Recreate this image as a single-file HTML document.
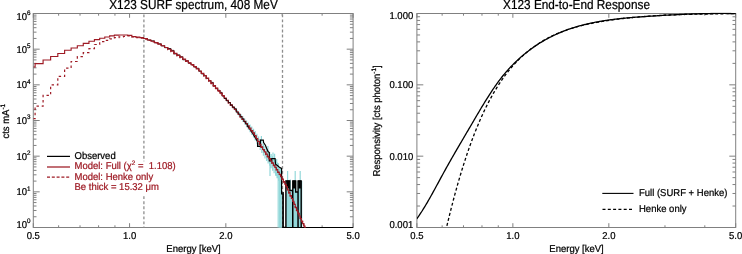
<!DOCTYPE html>
<html><head><meta charset="utf-8"><style>html,body{margin:0;padding:0;background:#fff;width:742px;height:254px;overflow:hidden}svg{display:block;will-change:transform}text{stroke-width:0.22px;text-rendering:geometricPrecision}</style></head>
<body><svg width="742" height="254" viewBox="0 0 742 254" font-family="Liberation Sans, sans-serif">
<rect width="742" height="254" fill="#fff"/>
<defs><clipPath id="cl"><rect x="33.3" y="12.5" width="319.8" height="215.5"/></clipPath><clipPath id="cr"><rect x="416.9" y="12.5" width="318.80000000000007" height="215.5"/></clipPath></defs>
<g fill="none" stroke="#808080" stroke-width="1">
<rect x="33.3" y="13.5" width="319.8" height="214.0"/>
<path d="M33.30 227.5v-4.3M33.30 13.5v4.3M129.57 227.5v-4.3M129.57 13.5v4.3M225.84 227.5v-4.3M225.84 13.5v4.3M353.10 227.5v-4.3M353.10 13.5v4.3M58.62 227.5v-2.2M58.62 13.5v2.2M80.03 227.5v-2.2M80.03 13.5v2.2M98.58 227.5v-2.2M98.58 13.5v2.2M114.94 227.5v-2.2M114.94 13.5v2.2M282.15 227.5v-2.2M282.15 13.5v2.2M322.11 227.5v-2.2M322.11 13.5v2.2M33.3 227.50h6.4M353.1 227.50h-6.4M33.3 216.76h3.2M353.1 216.76h-3.2M33.3 210.48h3.2M353.1 210.48h-3.2M33.3 206.03h3.2M353.1 206.03h-3.2M33.3 202.57h3.2M353.1 202.57h-3.2M33.3 199.75h3.2M353.1 199.75h-3.2M33.3 197.36h3.2M353.1 197.36h-3.2M33.3 195.29h3.2M353.1 195.29h-3.2M33.3 193.47h3.2M353.1 193.47h-3.2M33.3 191.83h6.4M353.1 191.83h-6.4M33.3 181.10h3.2M353.1 181.10h-3.2M33.3 174.82h3.2M353.1 174.82h-3.2M33.3 170.36h3.2M353.1 170.36h-3.2M33.3 166.90h3.2M353.1 166.90h-3.2M33.3 164.08h3.2M353.1 164.08h-3.2M33.3 161.69h3.2M353.1 161.69h-3.2M33.3 159.62h3.2M353.1 159.62h-3.2M33.3 157.80h3.2M353.1 157.80h-3.2M33.3 156.17h6.4M353.1 156.17h-6.4M33.3 145.43h3.2M353.1 145.43h-3.2M33.3 139.15h3.2M353.1 139.15h-3.2M33.3 134.69h3.2M353.1 134.69h-3.2M33.3 131.24h3.2M353.1 131.24h-3.2M33.3 128.41h3.2M353.1 128.41h-3.2M33.3 126.02h3.2M353.1 126.02h-3.2M33.3 123.96h3.2M353.1 123.96h-3.2M33.3 122.13h3.2M353.1 122.13h-3.2M33.3 120.50h6.4M353.1 120.50h-6.4M33.3 109.76h3.2M353.1 109.76h-3.2M33.3 103.48h3.2M353.1 103.48h-3.2M33.3 99.03h3.2M353.1 99.03h-3.2M33.3 95.57h3.2M353.1 95.57h-3.2M33.3 92.75h3.2M353.1 92.75h-3.2M33.3 90.36h3.2M353.1 90.36h-3.2M33.3 88.29h3.2M353.1 88.29h-3.2M33.3 86.47h3.2M353.1 86.47h-3.2M33.3 84.83h6.4M353.1 84.83h-6.4M33.3 74.10h3.2M353.1 74.10h-3.2M33.3 67.82h3.2M353.1 67.82h-3.2M33.3 63.36h3.2M353.1 63.36h-3.2M33.3 59.90h3.2M353.1 59.90h-3.2M33.3 57.08h3.2M353.1 57.08h-3.2M33.3 54.69h3.2M353.1 54.69h-3.2M33.3 52.62h3.2M353.1 52.62h-3.2M33.3 50.80h3.2M353.1 50.80h-3.2M33.3 49.17h6.4M353.1 49.17h-6.4M33.3 38.43h3.2M353.1 38.43h-3.2M33.3 32.15h3.2M353.1 32.15h-3.2M33.3 27.69h3.2M353.1 27.69h-3.2M33.3 24.24h3.2M353.1 24.24h-3.2M33.3 21.41h3.2M353.1 21.41h-3.2M33.3 19.02h3.2M353.1 19.02h-3.2M33.3 16.96h3.2M353.1 16.96h-3.2M33.3 15.13h3.2M353.1 15.13h-3.2M33.3 13.50h6.4M353.1 13.50h-6.4"/>
<rect x="416.9" y="13.5" width="318.80000000000007" height="214.0"/>
<path d="M416.90 227.5v-4.3M416.90 13.5v4.3M512.87 227.5v-4.3M512.87 13.5v4.3M608.84 227.5v-4.3M608.84 13.5v4.3M735.70 227.5v-4.3M735.70 13.5v4.3M442.14 227.5v-2.2M442.14 13.5v2.2M463.49 227.5v-2.2M463.49 13.5v2.2M481.97 227.5v-2.2M481.97 13.5v2.2M498.28 227.5v-2.2M498.28 13.5v2.2M664.97 227.5v-2.2M664.97 13.5v2.2M704.81 227.5v-2.2M704.81 13.5v2.2M416.9 227.50h6.4M735.7 227.50h-6.4M416.9 206.03h3.2M735.7 206.03h-3.2M416.9 193.47h3.2M735.7 193.47h-3.2M416.9 184.55h3.2M735.7 184.55h-3.2M416.9 177.64h3.2M735.7 177.64h-3.2M416.9 171.99h3.2M735.7 171.99h-3.2M416.9 167.22h3.2M735.7 167.22h-3.2M416.9 163.08h3.2M735.7 163.08h-3.2M416.9 159.43h3.2M735.7 159.43h-3.2M416.9 156.17h6.4M735.7 156.17h-6.4M416.9 134.69h3.2M735.7 134.69h-3.2M416.9 122.13h3.2M735.7 122.13h-3.2M416.9 113.22h3.2M735.7 113.22h-3.2M416.9 106.31h3.2M735.7 106.31h-3.2M416.9 100.66h3.2M735.7 100.66h-3.2M416.9 95.88h3.2M735.7 95.88h-3.2M416.9 91.75h3.2M735.7 91.75h-3.2M416.9 88.10h3.2M735.7 88.10h-3.2M416.9 84.83h6.4M735.7 84.83h-6.4M416.9 63.36h3.2M735.7 63.36h-3.2M416.9 50.80h3.2M735.7 50.80h-3.2M416.9 41.89h3.2M735.7 41.89h-3.2M416.9 34.97h3.2M735.7 34.97h-3.2M416.9 29.33h3.2M735.7 29.33h-3.2M416.9 24.55h3.2M735.7 24.55h-3.2M416.9 20.41h3.2M735.7 20.41h-3.2M416.9 16.76h3.2M735.7 16.76h-3.2M416.9 13.50h6.4M735.7 13.50h-6.4"/>
</g>
<path d="M143.9 13.5V227.5M282.5 13.5V227.5" stroke="#8e8e8e" stroke-width="1.3" stroke-dasharray="2.9 2.15" stroke-dashoffset="-0.9" fill="none"/><rect x="141" y="161.3" width="6" height="33" fill="#fff"/>
<g clip-path="url(#cl)" fill="none">
<g fill="#93d8da" stroke="none"><rect x="279.3" y="170" width="2.6" height="57.5"/><rect x="285.9" y="181" width="16.4" height="46.5"/></g>
<g fill="#fff" stroke="none"><rect x="290.3" y="176" width="2.0" height="14.5"/><rect x="296.2" y="176" width="1.4" height="16"/></g>
<path d="M231.39 103.96V105.94M233.37 105.88V108.48M235.33 107.88V111.09M237.27 109.97V113.78M239.17 112.11V116.52M241.05 114.26V119.25M242.91 116.37V121.94M244.74 118.42V124.55M246.54 120.43V127.13M248.33 122.44V129.70M250.09 124.49V132.29M251.82 126.55V134.89M253.54 128.67V137.54M255.24 131.02V140.42M256.91 133.77V143.69M258.57 136.50V146.94M260.21 139.03V149.98M261.82 141.47V152.92M263.42 143.80V155.74M265.00 145.98V158.41M266.56 148.02V160.95M268.11 150.01V163.41M269.64 151.99V165.87M271.15 153.97V168.32M272.64 155.92V170.73M274.12 157.88V173.16M275.59 159.90V175.63M277.04 161.99V178.17M278.47 164.10V180.73M270 156V176M276.7 159V176M278.2 163V227.5M279.6 168V227.5M280.6 168V227.5M261.4 135.9V142M257.5 142V147M267.9 146V160M273 152.6V162M274.6 153.8V165M287.6 171V181M295.2 171V181M300.2 171V181M290.3 179.5V191" stroke="#93d8da" stroke-width="1.2"/>
<path d="M143.63 38.53H147.34V40.01H150.96V40.87H154.49V42.72H157.93V43.88H161.28V45.89H164.56V47.68H167.76V48.51H170.89V50.40H173.95V53.85H176.94V54.96H179.88V56.76H182.75V59.78H185.56V60.79H188.32V63.26H191.02V64.61H193.67V66.91H196.27V68.25H198.83V71.23H201.33V73.89H203.80V75.72H206.22V78.52H208.60V80.86H210.94V82.41H213.24V86.05H215.50V88.31H217.72V90.35H219.92V92.39H222.07V95.99H224.20V98.53H226.29" stroke="#000" stroke-width="0.9"/>
<path d="M247.21 125.88 L249.21 128.18 L253.00 134.00 L257.60 141.60 L257.60 146.40 L260.40 146.40 L260.40 140.20 L263.30 140.20 L263.60 142.50 L265.40 145.30 L266.70 148.50 L268.00 151.50 L269.30 152.50 L269.30 161.00 L271.70 161.00 L271.70 158.60 L275.10 158.60 L275.50 164.20 L277.40 165.60 L279.40 167.20 L281.60 168.40 L281.60 194.00 L283.00 194.00 L283.00 227.50 L353.50 227.50" stroke="#000" stroke-width="1.2"/>
<path d="M283.1 192V227.5H285.9V181H289.8V190.5H292.7V227.5M292.8 227.5V181H295.7V192H298V227.5M298.1 227.5V181H301.2V227.5" stroke="#000" stroke-width="1.4"/>
<g fill="#000"><rect x="286.4" y="180.5" width="3.2" height="8"/><rect x="292.9" y="180.5" width="2.6" height="8"/><rect x="298.3" y="180.5" width="2.6" height="8"/></g>
<path d="M33.30 118.60H35.09V106.20H43.09V95.40H50.64V84.90H57.81V76.40H64.62V68.20H71.12V61.50H77.33V56.60H83.27V52.70H88.96V48.70H94.44V44.50H99.70V41.70H104.77V40.30H109.67V38.80H114.39V37.60H118.97V36.80H123.39V36.30H127.68V35.90H131.84V37.02H135.88V37.55H139.81V38.07H143.63V39.03H147.34V40.51H150.96V41.79H154.49V43.14H157.93V44.59H161.28V46.22H164.56V47.97H167.76V49.71H170.89V51.68H173.95V53.81H176.94V55.84H179.88V57.69H182.75V59.49H185.56V61.34H188.32V63.22H191.02V65.15H193.67V67.18H196.27V69.31H198.83V71.52H201.33V73.80H203.80V76.18H206.22V78.63H208.60V81.09H210.94V83.61H213.24V86.14H215.50V88.66H217.72V91.17H219.92V93.64H222.07V96.08H224.20V98.48H226.29V100.85H228.35V103.16H230.38V105.40H232.38V107.61H234.36V109.90H236.30V112.27H238.22V114.70H240.11V117.12H241.98V119.51H243.82V121.82H245.64V124.10H247.44V126.38H249.21V128.68H250.96V131.01H252.69V133.37H254.39V135.97H256.08V138.97H257.74V141.95H259.39V144.72H261.02V147.40H262.62V149.96H264.21V152.37H265.79V154.65H267.34V156.86H268.88V159.06H270.40V161.27H271.90V163.44H273.39V165.62H274.86V167.85H276.31V170.15H277.76V172.48H279.18V174.83H280.59V177.22H281.99V179.66H283.37V182.17H284.74V184.75H286.10V187.43H287.44V190.23H288.77V193.11H290.09V196.03H291.40V198.98H292.69V201.93H293.97V204.84H295.24V207.75H296.50V210.73H297.75V213.67H298.98V216.49H300.21V219.12H301.42V221.61H302.63V224.06H303.82V226.56H305.00V229.21H306.18V232.02H307.34V233.5" stroke="#9e1a24" stroke-width="1.2" stroke-dasharray="2.4 2.8"/>
<path d="M33.30 67.00H35.09V63.60H43.09V60.00H50.64V56.50H57.81V53.50H64.62V50.20H71.12V48.00H77.33V45.70H83.27V43.30H88.96V41.20H94.44V39.60H99.70V38.20H104.77V37.00H109.67V35.80H114.39V35.10H118.97V35.00H123.39V35.00H127.68V35.30H131.84V36.55H135.88V37.05H139.81V37.57H143.63V38.53H147.34V40.01H150.96V41.29H154.49V42.64H157.93V44.09H161.28V45.72H164.56V47.47H167.76V49.21H170.89V51.18H173.95V53.31H176.94V55.34H179.88V57.19H182.75V58.99H185.56V60.84H188.32V62.72H191.02V64.65H193.67V66.68H196.27V68.81H198.83V71.02H201.33V73.30H203.80V75.68H206.22V78.13H208.60V80.59H210.94V83.11H213.24V85.64H215.50V88.16H217.72V90.67H219.92V93.14H222.07V95.58H224.20V97.98H226.29V100.35H228.35V102.66H230.38V104.90H232.38V107.11H234.36V109.40H236.30V111.77H238.22V114.20H240.11V116.62H241.98V119.01H243.82V121.32H245.64V123.60H247.44V125.88H249.21V128.18H250.96V130.51H252.69V132.87H254.39V135.47H256.08V138.47H257.74V141.45H259.39V144.22H261.02V146.90H262.62V149.46H264.21V151.87H265.79V154.15H267.34V156.36H268.88V158.56H270.40V160.77H271.90V162.94H273.39V165.12H274.86V167.35H276.31V169.65H277.76V171.98H279.18V174.33H280.59V176.72H281.99V179.16H283.37V181.67H284.74V184.25H286.10V186.93H287.44V189.73H288.77V192.61H290.09V195.53H291.40V198.48H292.69V201.43H293.97V204.34H295.24V207.25H296.50V210.23H297.75V213.17H298.98V215.99H300.21V218.62H301.42V221.11H302.63V223.56H303.82V226.06H305.00V228.71H306.18V231.52H307.34V233.5" stroke="#9e1a24" stroke-width="1.15"/>
<path d="M224.20 98.53H226.29V100.92H228.35V102.62H230.38V105.05H232.38V107.21H234.36V108.41H236.30V112.31H238.22V114.07H240.11V116.38H241.98V118.69H243.82V121.67H245.64V124.13H247.44V126.74H249.21" stroke="#000" stroke-width="0.75" stroke-opacity="0.85"/>
</g>
<g clip-path="url(#cr)" fill="none" stroke="#000" stroke-width="1.3">
<path d="M416.80 218.80 L417.60 217.69 L418.40 216.55 L419.20 215.38 L420.01 214.19 L420.81 212.98 L421.61 211.74 L422.41 210.49 L423.21 209.21 L424.01 207.91 L424.81 206.60 L425.61 205.26 L426.42 203.91 L427.22 202.55 L428.02 201.16 L428.82 199.77 L429.62 198.36 L430.42 196.95 L431.22 195.52 L432.02 194.08 L432.83 192.63 L433.63 191.18 L434.43 189.71 L435.23 188.25 L436.03 186.77 L436.83 185.30 L437.63 183.82 L438.43 182.34 L439.24 180.86 L440.04 179.38 L440.84 177.90 L441.64 176.43 L442.44 174.96 L443.24 173.49 L444.04 172.03 L444.84 170.57 L445.65 169.13 L446.45 167.68 L447.25 166.25 L448.05 164.82 L448.85 163.40 L449.65 161.98 L450.45 160.57 L451.25 159.16 L452.06 157.76 L452.86 156.37 L453.66 154.97 L454.46 153.58 L455.26 152.20 L456.06 150.82 L456.86 149.44 L457.66 148.06 L458.47 146.69 L459.27 145.32 L460.07 143.95 L460.87 142.58 L461.67 141.22 L462.47 139.85 L463.27 138.49 L464.07 137.13 L464.88 135.76 L465.68 134.40 L466.48 133.04 L467.28 131.67 L468.08 130.31 L468.88 128.94 L469.68 127.58 L470.48 126.21 L471.29 124.84 L472.09 123.47 L472.89 122.10 L473.69 120.73 L474.49 119.36 L475.29 118.00 L476.09 116.64 L476.89 115.27 L477.70 113.92 L478.50 112.56 L479.30 111.22 L480.10 109.87 L480.90 108.53 L481.70 107.20 L482.50 105.87 L483.30 104.55 L484.11 103.24 L484.91 101.94 L485.71 100.64 L486.51 99.35 L487.31 98.07 L488.11 96.81 L488.91 95.55 L489.71 94.30 L490.52 93.07 L491.32 91.84 L492.12 90.63 L492.92 89.44 L493.72 88.25 L494.52 87.08 L495.32 85.93 L496.12 84.79 L496.93 83.66 L497.73 82.55 L498.53 81.46 L499.33 80.39 L500.13 79.33 L500.93 78.29 L501.73 77.27 L502.53 76.26 L503.34 75.27 L504.14 74.30 L504.94 73.34 L505.74 72.40 L506.54 71.48 L507.34 70.57 L508.14 69.67 L508.94 68.79 L509.75 67.92 L510.55 67.07 L511.35 66.23 L512.15 65.40 L512.95 64.59 L513.75 63.79 L514.55 63.00 L515.35 62.22 L516.16 61.46 L516.96 60.70 L517.76 59.96 L518.56 59.22 L519.36 58.50 L520.16 57.78 L520.96 57.08 L521.76 56.38 L522.57 55.70 L523.37 55.02 L524.17 54.35 L524.97 53.70 L525.77 53.05 L526.57 52.41 L527.37 51.78 L528.17 51.15 L528.98 50.54 L529.78 49.93 L530.58 49.34 L531.38 48.75 L532.18 48.17 L532.98 47.60 L533.78 47.04 L534.58 46.48 L535.39 45.93 L536.19 45.39 L536.99 44.86 L537.79 44.34 L538.59 43.82 L539.39 43.32 L540.19 42.82 L540.99 42.32 L541.80 41.84 L542.60 41.36 L543.40 40.89 L544.20 40.42 L545.00 39.97 L545.80 39.52 L546.60 39.07 L547.40 38.64 L548.21 38.21 L549.01 37.79 L549.81 37.37 L550.61 36.96 L551.41 36.56 L552.21 36.16 L553.01 35.77 L553.81 35.39 L554.62 35.01 L555.42 34.64 L556.22 34.27 L557.02 33.91 L557.82 33.56 L558.62 33.21 L559.42 32.87 L560.22 32.53 L561.03 32.20 L561.83 31.88 L562.63 31.56 L563.43 31.24 L564.23 30.93 L565.03 30.63 L565.83 30.33 L566.63 30.03 L567.44 29.74 L568.24 29.46 L569.04 29.18 L569.84 28.90 L570.64 28.63 L571.44 28.37 L572.24 28.11 L573.04 27.85 L573.85 27.60 L574.65 27.35 L575.45 27.11 L576.25 26.87 L577.05 26.64 L577.85 26.41 L578.65 26.18 L579.45 25.96 L580.26 25.74 L581.06 25.52 L581.86 25.31 L582.66 25.10 L583.46 24.90 L584.26 24.70 L585.06 24.50 L585.86 24.31 L586.67 24.12 L587.47 23.93 L588.27 23.75 L589.07 23.57 L589.87 23.39 L590.67 23.22 L591.47 23.04 L592.27 22.88 L593.08 22.71 L593.88 22.55 L594.68 22.39 L595.48 22.23 L596.28 22.08 L597.08 21.93 L597.88 21.78 L598.68 21.64 L599.49 21.49 L600.29 21.35 L601.09 21.22 L601.89 21.08 L602.69 20.95 L603.49 20.82 L604.29 20.69 L605.09 20.57 L605.90 20.45 L606.70 20.33 L607.50 20.21 L608.30 20.09 L609.10 19.98 L609.90 19.87 L610.70 19.76 L611.50 19.65 L612.31 19.55 L613.11 19.45 L613.91 19.34 L614.71 19.25 L615.51 19.15 L616.31 19.05 L617.11 18.96 L617.91 18.87 L618.72 18.78 L619.52 18.69 L620.32 18.60 L621.12 18.52 L621.92 18.44 L622.72 18.35 L623.52 18.27 L624.32 18.20 L625.13 18.12 L625.93 18.04 L626.73 17.97 L627.53 17.89 L628.33 17.82 L629.13 17.75 L629.93 17.68 L630.73 17.61 L631.54 17.55 L632.34 17.48 L633.14 17.41 L633.94 17.35 L634.74 17.29 L635.54 17.22 L636.34 17.16 L637.14 17.10 L637.95 17.04 L638.75 16.98 L639.55 16.92 L640.35 16.87 L641.15 16.81 L641.95 16.75 L642.75 16.70 L643.55 16.64 L644.36 16.59 L645.16 16.53 L645.96 16.48 L646.76 16.42 L647.56 16.37 L648.36 16.32 L649.16 16.26 L649.96 16.21 L650.77 16.16 L651.57 16.10 L652.37 16.05 L653.17 16.00 L653.97 15.95 L654.77 15.90 L655.57 15.85 L656.37 15.80 L657.18 15.75 L657.98 15.70 L658.78 15.65 L659.58 15.60 L660.38 15.55 L661.18 15.50 L661.98 15.45 L662.78 15.41 L663.59 15.36 L664.39 15.31 L665.19 15.26 L665.99 15.22 L666.79 15.17 L667.59 15.13 L668.39 15.08 L669.19 15.04 L670.00 14.99 L670.80 14.95 L671.60 14.91 L672.40 14.87 L673.20 14.82 L674.00 14.78 L674.80 14.74 L675.60 14.70 L676.41 14.66 L677.21 14.62 L678.01 14.58 L678.81 14.54 L679.61 14.51 L680.41 14.47 L681.21 14.43 L682.01 14.39 L682.82 14.36 L683.62 14.32 L684.42 14.29 L685.22 14.25 L686.02 14.22 L686.82 14.19 L687.62 14.16 L688.42 14.12 L689.23 14.09 L690.03 14.06 L690.83 14.03 L691.63 14.00 L692.43 13.98 L693.23 13.95 L694.03 13.92 L694.83 13.89 L695.64 13.87 L696.44 13.84 L697.24 13.82 L698.04 13.79 L698.84 13.77 L699.64 13.75 L700.44 13.73 L701.24 13.71 L702.05 13.69 L702.85 13.67 L703.65 13.65 L704.45 13.63 L705.25 13.61 L706.05 13.60 L706.85 13.58 L707.65 13.57 L708.46 13.55 L709.26 13.54 L710.06 13.53 L710.86 13.52 L711.66 13.51 L712.46 13.50 L713.26 13.49 L714.06 13.48 L714.87 13.47 L715.67 13.46 L716.47 13.46 L717.27 13.45 L718.07 13.45 L718.87 13.45 L719.67 13.45 L720.47 13.44 L721.28 13.44 L722.08 13.44 L722.88 13.45 L723.68 13.45 L724.48 13.45 L725.28 13.46 L726.08 13.46 L726.88 13.47 L727.69 13.48 L728.49 13.48 L729.29 13.49 L730.09 13.50 L730.89 13.51 L731.69 13.53 L732.49 13.54 L733.29 13.55 L734.10 13.57 L734.90 13.59 L735.70 13.60 L736.50 13.62"/>
<path d="M446.90 225.89 L447.63 222.84 L448.35 219.84 L449.08 216.86 L449.80 213.92 L450.53 211.02 L451.25 208.16 L451.98 205.33 L452.71 202.53 L453.43 199.77 L454.16 197.05 L454.88 194.35 L455.61 191.70 L456.34 189.07 L457.06 186.48 L457.79 183.92 L458.51 181.40 L459.24 178.91 L459.96 176.45 L460.69 174.02 L461.42 171.62 L462.14 169.26 L462.87 166.92 L463.59 164.62 L464.32 162.35 L465.05 160.11 L465.77 157.89 L466.50 155.71 L467.22 153.56 L467.95 151.44 L468.67 149.34 L469.40 147.28 L470.13 145.24 L470.85 143.23 L471.58 141.25 L472.30 139.30 L473.03 137.37 L473.76 135.47 L474.48 133.60 L475.21 131.76 L475.93 129.94 L476.66 128.14 L477.38 126.38 L478.11 124.64 L478.84 122.92 L479.56 121.23 L480.29 119.56 L481.01 117.92 L481.74 116.30 L482.46 114.70 L483.19 113.13 L483.92 111.58 L484.64 110.06 L485.37 108.55 L486.09 107.07 L486.82 105.61 L487.55 104.18 L488.27 102.76 L489.00 101.37 L489.72 100.00 L490.45 98.65 L491.17 97.32 L491.90 96.00 L492.63 94.71 L493.35 93.44 L494.08 92.19 L494.80 90.96 L495.53 89.75 L496.26 88.55 L496.98 87.38 L497.71 86.22 L498.43 85.08 L499.16 83.96 L499.88 82.86 L500.61 81.77 L501.34 80.70 L502.06 79.65 L502.79 78.61 L503.51 77.59 L504.24 76.59 L504.97 75.60 L505.69 74.63 L506.42 73.68 L507.14 72.74 L507.87 71.81 L508.59 70.90 L509.32 70.00 L510.05 69.12 L510.77 68.25 L511.50 67.40 L512.22 66.56 L512.95 65.73 L513.67 64.92 L514.40 64.12 L515.13 63.33 L515.85 62.55 L516.58 61.79 L517.30 61.03 L518.03 60.29 L518.76 59.56 L519.48 58.85 L520.21 58.14 L520.93 57.45 L521.66 56.77 L522.38 56.09 L523.11 55.43 L523.84 54.78 L524.56 54.14 L525.29 53.51 L526.01 52.89 L526.74 52.28 L527.47 51.68 L528.19 51.09 L528.92 50.51 L529.64 49.93 L530.37 49.37 L531.09 48.82 L531.82 48.27 L532.55 47.74 L533.27 47.21 L534.00 46.69 L534.72 46.17 L535.45 45.67 L536.18 45.17 L536.90 44.68 L537.63 44.20 L538.35 43.73 L539.08 43.26 L539.80 42.80 L540.53 42.35 L541.26 41.90 L541.98 41.46 L542.71 41.03 L543.43 40.60 L544.16 40.18 L544.88 39.76 L545.61 39.36 L546.34 38.95 L547.06 38.56 L547.79 38.17 L548.51 37.78 L549.24 37.40 L549.97 37.03 L550.69 36.67 L551.42 36.30 L552.14 35.95 L552.87 35.60 L553.59 35.26 L554.32 34.92 L555.05 34.58 L555.77 34.26 L556.50 33.93 L557.22 33.62 L557.95 33.31 L558.68 33.00 L559.40 32.70 L560.13 32.40 L560.85 32.11 L561.58 31.82 L562.30 31.54 L563.03 31.26 L563.76 30.99 L564.48 30.72 L565.21 30.45 L565.93 30.19 L566.66 29.94 L567.39 29.69 L568.11 29.44 L568.84 29.20 L569.56 28.96 L570.29 28.73 L571.01 28.50 L571.74 28.27 L572.47 28.05 L573.19 27.83 L573.92 27.61 L574.64 27.40 L575.37 27.19 L576.09 26.99 L576.82 26.79 L577.55 26.59 L578.27 26.40 L579.00 26.21 L579.72 26.02 L580.45 25.83 L581.18 25.65 L581.90 25.47 L582.63 25.30 L583.35 25.13 L584.08 24.96 L584.80 24.79 L585.53 24.63 L586.26 24.46 L586.98 24.31 L587.71 24.15 L588.43 23.99 L589.16 23.84 L589.89 23.69 L590.61 23.55 L591.34 23.40 L592.06 23.26 L592.79 23.12 L593.51 22.98 L594.24 22.84 L594.97 22.71 L595.69 22.57 L596.42 22.44 L597.14 22.31 L597.87 22.18 L598.60 22.06 L599.32 21.93 L600.05 21.81 L600.77 21.69 L601.50 21.56 L602.22 21.44 L602.95 21.33 L603.68 21.21 L604.40 21.09 L605.13 20.98 L605.85 20.87 L606.58 20.75 L607.31 20.64 L608.03 20.53 L608.76 20.42 L609.48 20.32 L610.21 20.21 L610.93 20.11 L611.66 20.00 L612.39 19.90 L613.11 19.80 L613.84 19.70 L614.56 19.60 L615.29 19.50 L616.01 19.41 L616.74 19.31 L617.47 19.22 L618.19 19.13 L618.92 19.04 L619.64 18.94 L620.37 18.86 L621.10 18.77 L621.82 18.68 L622.55 18.59 L623.27 18.51 L624.00 18.43 L624.72 18.34 L625.45 18.26 L626.18 18.18 L626.90 18.10 L627.63 18.02 L628.35 17.95 L629.08 17.87 L629.81 17.79 L630.53 17.72 L631.26 17.65 L631.98 17.57 L632.71 17.50 L633.43 17.43 L634.16 17.36 L634.89 17.29 L635.61 17.23 L636.34 17.16 L637.06 17.09 L637.79 17.03 L638.52 16.97 L639.24 16.90 L639.97 16.84 L640.69 16.78 L641.42 16.72 L642.14 16.66 L642.87 16.60 L643.60 16.54 L644.32 16.49 L645.05 16.43 L645.77 16.38 L646.50 16.32 L647.22 16.27 L647.95 16.22 L648.68 16.17 L649.40 16.12 L650.13 16.07 L650.85 16.02 L651.58 15.97 L652.31 15.92 L653.03 15.87 L653.76 15.83 L654.48 15.78 L655.21 15.74 L655.93 15.69 L656.66 15.65 L657.39 15.61 L658.11 15.57 L658.84 15.53 L659.56 15.49 L660.29 15.45 L661.02 15.41 L661.74 15.37 L662.47 15.33 L663.19 15.29 L663.92 15.26 L664.64 15.22 L665.37 15.19 L666.10 15.15 L666.82 15.12 L667.55 15.09 L668.27 15.05 L669.00 15.02 L669.73 14.99 L670.45 14.96 L671.18 14.93 L671.90 14.90 L672.63 14.87 L673.35 14.84 L674.08 14.82 L674.81 14.79 L675.53 14.76 L676.26 14.73 L676.98 14.71 L677.71 14.68 L678.43 14.66 L679.16 14.63 L679.89 14.61 L680.61 14.59 L681.34 14.56 L682.06 14.54 L682.79 14.52 L683.52 14.50 L684.24 14.48 L684.97 14.46 L685.69 14.44 L686.42 14.42 L687.14 14.40 L687.87 14.38 L688.60 14.36 L689.32 14.34 L690.05 14.32 L690.77 14.30 L691.50 14.29 L692.23 14.27 L692.95 14.25 L693.68 14.24 L694.40 14.22 L695.13 14.20 L695.85 14.19 L696.58 14.17 L697.31 14.16 L698.03 14.14 L698.76 14.13 L699.48 14.12 L700.21 14.10 L700.94 14.09 L701.66 14.08 L702.39 14.06 L703.11 14.05 L703.84 14.04 L704.56 14.03 L705.29 14.01 L706.02 14.00 L706.74 13.99 L707.47 13.98 L708.19 13.97 L708.92 13.95 L709.64 13.94 L710.37 13.93 L711.10 13.92 L711.82 13.91 L712.55 13.90 L713.27 13.89 L714.00 13.88 L714.73 13.87 L715.45 13.86 L716.18 13.85 L716.90 13.84 L717.63 13.83 L718.35 13.82 L719.08 13.81 L719.81 13.80 L720.53 13.79 L721.26 13.78 L721.98 13.77 L722.71 13.76 L723.44 13.75 L724.16 13.74 L724.89 13.73 L725.61 13.72 L726.34 13.71 L727.06 13.70 L727.79 13.69 L728.52 13.68 L729.24 13.67 L729.97 13.66 L730.69 13.65 L731.42 13.64 L732.15 13.63 L732.87 13.62 L733.60 13.61 L734.32 13.60 L735.05 13.59 L735.77 13.58 L736.50 13.57" stroke-dasharray="3 2.2"/>
</g>
<text transform="translate(193.5,8.8) scale(1,1.12)" font-size="11.8" text-anchor="middle" fill="#000" stroke="#000">X123 SURF spectrum, 408 MeV</text>
<text transform="translate(576.5,8.8) scale(1,1.12)" font-size="11.8" text-anchor="middle" fill="#000" stroke="#000">X123 End-to-End Response</text>
<text transform="translate(33.30,238.5) scale(1,1.05)" font-size="9.5" text-anchor="middle" fill="#000" stroke="#000" >0.5</text>
<text transform="translate(416.90,238.5) scale(1,1.05)" font-size="9.5" text-anchor="middle" fill="#000" stroke="#000" >0.5</text>
<text transform="translate(129.57,238.5) scale(1,1.05)" font-size="9.5" text-anchor="middle" fill="#000" stroke="#000" >1.0</text>
<text transform="translate(512.87,238.5) scale(1,1.05)" font-size="9.5" text-anchor="middle" fill="#000" stroke="#000" >1.0</text>
<text transform="translate(225.84,238.5) scale(1,1.05)" font-size="9.5" text-anchor="middle" fill="#000" stroke="#000" >2.0</text>
<text transform="translate(608.84,238.5) scale(1,1.05)" font-size="9.5" text-anchor="middle" fill="#000" stroke="#000" >2.0</text>
<text transform="translate(353.10,238.5) scale(1,1.05)" font-size="9.5" text-anchor="middle" fill="#000" stroke="#000" >5.0</text>
<text transform="translate(735.70,238.5) scale(1,1.05)" font-size="9.5" text-anchor="middle" fill="#000" stroke="#000" >5.0</text>
<text transform="translate(193.5,251.7) scale(1,1.05)" font-size="9.5" text-anchor="middle" fill="#000" stroke="#000" >Energy [keV]</text>
<text transform="translate(576.5,251.7) scale(1,1.05)" font-size="9.5" text-anchor="middle" fill="#000" stroke="#000" >Energy [keV]</text>
<text transform="translate(27.0,228.00) scale(1,1.05)" font-size="9.5" text-anchor="end" fill="#000" stroke="#000" >10</text>
<text transform="translate(27.1,223.20) scale(1,1.05)" font-size="6.3" text-anchor="start" fill="#000" stroke="#000" >0</text>
<text transform="translate(27.0,195.33) scale(1,1.05)" font-size="9.5" text-anchor="end" fill="#000" stroke="#000" >10</text>
<text transform="translate(27.1,190.53) scale(1,1.05)" font-size="6.3" text-anchor="start" fill="#000" stroke="#000" >1</text>
<text transform="translate(27.0,159.67) scale(1,1.05)" font-size="9.5" text-anchor="end" fill="#000" stroke="#000" >10</text>
<text transform="translate(27.1,154.87) scale(1,1.05)" font-size="6.3" text-anchor="start" fill="#000" stroke="#000" >2</text>
<text transform="translate(27.0,124.00) scale(1,1.05)" font-size="9.5" text-anchor="end" fill="#000" stroke="#000" >10</text>
<text transform="translate(27.1,119.20) scale(1,1.05)" font-size="6.3" text-anchor="start" fill="#000" stroke="#000" >3</text>
<text transform="translate(27.0,88.33) scale(1,1.05)" font-size="9.5" text-anchor="end" fill="#000" stroke="#000" >10</text>
<text transform="translate(27.1,83.53) scale(1,1.05)" font-size="6.3" text-anchor="start" fill="#000" stroke="#000" >4</text>
<text transform="translate(27.0,52.67) scale(1,1.05)" font-size="9.5" text-anchor="end" fill="#000" stroke="#000" >10</text>
<text transform="translate(27.1,47.87) scale(1,1.05)" font-size="6.3" text-anchor="start" fill="#000" stroke="#000" >5</text>
<text transform="translate(27.0,19.60) scale(1,1.05)" font-size="9.5" text-anchor="end" fill="#000" stroke="#000" >10</text>
<text transform="translate(27.1,14.80) scale(1,1.05)" font-size="6.3" text-anchor="start" fill="#000" stroke="#000" >6</text>
<text transform="translate(413.2,227.70) scale(1,1.05)" font-size="9.5" text-anchor="end" fill="#000" stroke="#000" >0.001</text>
<text transform="translate(413.2,159.67) scale(1,1.05)" font-size="9.5" text-anchor="end" fill="#000" stroke="#000" >0.010</text>
<text transform="translate(413.2,88.33) scale(1,1.05)" font-size="9.5" text-anchor="end" fill="#000" stroke="#000" >0.100</text>
<text transform="translate(413.2,19.40) scale(1,1.05)" font-size="9.5" text-anchor="end" fill="#000" stroke="#000" >1.000</text>
<text transform="translate(8.7,121.3) rotate(-90) scale(1,1.05)" font-size="9.5" text-anchor="middle" stroke="#000">cts mA<tspan font-size="6.3" dy="-3.4">-1</tspan></text>
<text transform="translate(380.0,121.0) rotate(-90) scale(1,1.05)" font-size="9.5" text-anchor="middle" stroke="#000">Responsivity [cts photon<tspan font-size="6.3" dy="-3.4">-1</tspan><tspan dy="3.4">]</tspan></text>
<path d="M47 156.4H70" stroke="#000" stroke-width="1.25"/>
<path d="M47 167H70" stroke="#9e1a24" stroke-width="1.25"/>
<path d="M47 177.2H70" stroke="#9e1a24" stroke-width="1.25" stroke-dasharray="3 1.8"/>
<text transform="translate(74.5,158.8) scale(1,1.05)" font-size="9.5" text-anchor="start" fill="#000" stroke="#000" >Observed</text>
<text transform="translate(74.5,169.3) scale(1,1.05)" font-size="9.5" fill="#9e1a24" stroke="#9e1a24" xml:space="preserve">Model: Full (χ<tspan font-size="6.3" dy="-3.8">2</tspan><tspan dy="3.8"> =  1.108)</tspan></text>
<text transform="translate(74.5,179.7) scale(1,1.05)" font-size="9.5" text-anchor="start" fill="#9e1a24" stroke="#9e1a24" >Model: Henke only</text>
<text transform="translate(74.5,190.2) scale(1,1.05)" font-size="9.5" text-anchor="start" fill="#9e1a24" stroke="#9e1a24" >Be thick = 15.32 μm</text>
<path d="M602.3 193.4H633.5" stroke="#000" stroke-width="1.1"/>
<path d="M602.5 209.3H633.5" stroke="#000" stroke-width="1.3" stroke-dasharray="3 2.3"/>
<text transform="translate(639,195.8) scale(1,1.05)" font-size="9.5" text-anchor="start" fill="#000" stroke="#000" >Full (SURF + Henke)</text>
<text transform="translate(639,212.2) scale(1,1.05)" font-size="9.5" text-anchor="start" fill="#000" stroke="#000" >Henke only</text>
</svg></body></html>
